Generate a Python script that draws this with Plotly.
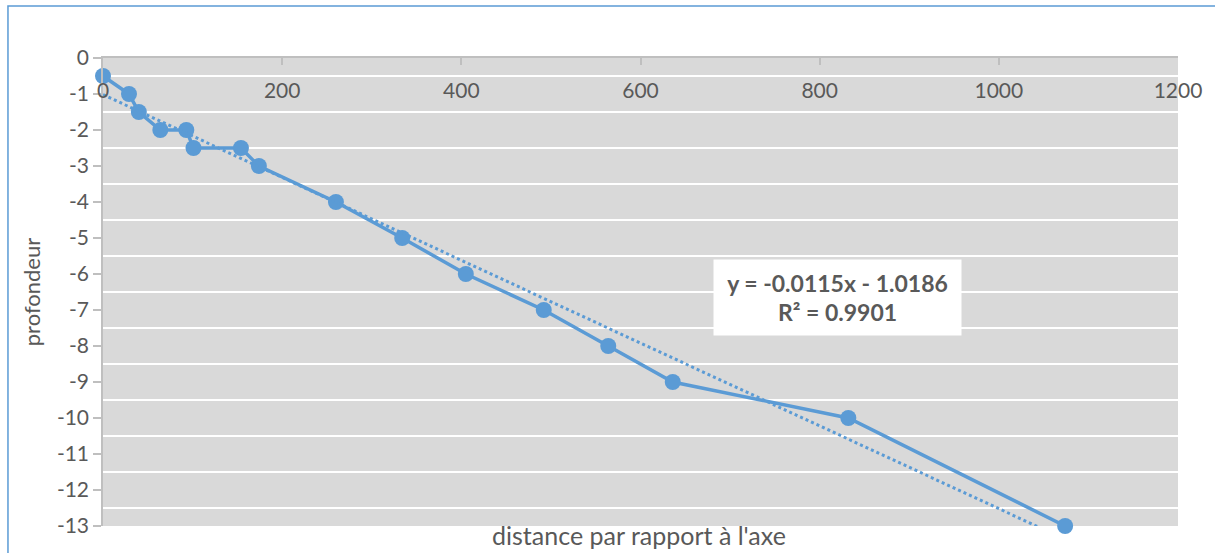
import plotly.graph_objects as go

# Measured profile: horizontal distance from the axis vs. depth
distance = [0, 29, 40, 64, 93, 101, 154, 174, 260, 334, 405, 492, 564, 636, 832, 1074]
profondeur = [-0.5, -1, -1.5, -2, -2, -2.5, -2.5, -3, -4, -5, -6, -7, -8, -9, -10, -13]

# Linear trendline parameters (as reported on the chart)
slope = -0.0115
intercept = -1.0186
r_squared = 0.9901

x_ticks = [0, 200, 400, 600, 800, 1000, 1200]
y_ticks = list(range(-13, 1))
y_grid = [v + 0.5 for v in range(-13, 0)]

BLUE = "#5b9bd5"
TEXT = "#595959"
AXIS = "#bfbfbf"
FONT = "Lato"

trend_x = [min(distance), max(distance)]
trend_y = [slope * v + intercept for v in trend_x]

fig = go.Figure()
fig.add_trace(go.Scatter(
    x=distance, y=profondeur, mode="lines+markers",
    line=dict(color=BLUE, width=3.5),
    marker=dict(color=BLUE, size=16),
    cliponaxis=False,
    showlegend=False,
))
# trendline sits on the overlay axis so it is drawn above the series
fig.add_trace(go.Scatter(
    x=trend_x, y=trend_y, mode="lines", xaxis="x2",
    line=dict(color=BLUE, width=3, dash="dot"),
    hoverinfo="skip", showlegend=False,
))

eq_text = (f"y = {slope:.4f}x - {abs(intercept):.4f}<br>"
           f"R² = {r_squared:.4f}")

tick_font = dict(size=21, color=TEXT, family=FONT)

fig.update_layout(
    width=1215, height=553,
    margin=dict(l=103, r=37, t=58, b=27),
    paper_bgcolor="white",
    plot_bgcolor="#d9d9d9",
    font=dict(family=FONT, color=TEXT),
    xaxis=dict(
        range=[0, 1200], side="top", tickvals=x_ticks,
        ticks="inside", ticklen=7, tickwidth=1.5, tickcolor=AXIS,
        showline=True, linecolor=AXIS, linewidth=1.5,
        showticklabels=False, showgrid=False, zeroline=False,
    ),
    # tick labels of the distance axis, set just under the top edge
    xaxis2=dict(
        overlaying="x", matches="x", side="top", anchor="free",
        position=0.906, tickvals=x_ticks,
        ticktext=[str(v) for v in x_ticks],
        ticks="", showline=False, showgrid=False, zeroline=False,
        tickfont=tick_font,
    ),
    yaxis=dict(
        range=[-13, 0], tickvals=y_ticks,
        ticktext=[str(v) for v in y_ticks],
        ticks="outside", ticklen=8, tickwidth=1.5, tickcolor=AXIS,
        showline=True, linecolor=AXIS, linewidth=1.5,
        tickfont=tick_font,
        showgrid=False, zeroline=False,
        minor=dict(tickvals=y_grid, showgrid=True, gridcolor="white",
                   gridwidth=1.5, ticks=""),
        title=dict(text="profondeur", standoff=10,
                   font=dict(size=22, color=TEXT, family=FONT)),
    ),
    annotations=[
        dict(
            x=820, y=-6.65, xref="x", yref="y",
            text=f"<b>{eq_text}</b>", showarrow=False,
            font=dict(size=23, color=TEXT, family=FONT),
            bgcolor="white", width=245, height=73, align="center",
            valign="middle",
        ),
        dict(
            x=0.4986, y=-0.056, xref="paper", yref="paper",
            xanchor="center", yanchor="bottom",
            text="distance par rapport à l'axe", showarrow=False,
            font=dict(size=25, color=TEXT, family=FONT),
        ),
    ],
    shapes=[
        dict(type="rect", xref="paper", yref="paper",
             x0=-0.0884, x1=1.2, y0=-0.3, y1=1.111,
             line=dict(color=BLUE, width=1.5), fillcolor="rgba(0,0,0,0)",
             layer="below"),
    ],
)

fig.write_html("out.html")
